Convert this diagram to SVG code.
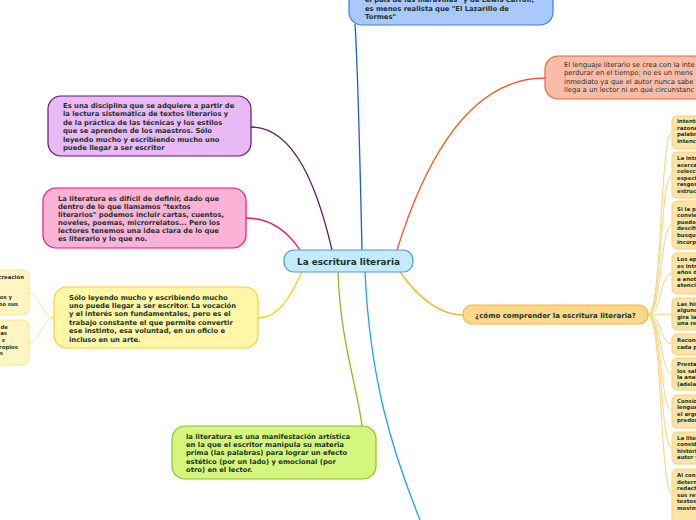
<svg xmlns="http://www.w3.org/2000/svg" width="696" height="520" viewBox="0 0 696 520">
<style>
.t{font-family:"DejaVu Sans","Liberation Sans",sans-serif;font-weight:bold;font-size:6.8px;fill:#1a3528}
.r{font-family:"DejaVu Sans","Liberation Sans",sans-serif;font-size:6.8px;fill:#1a3528}
.s{font-family:"DejaVu Sans","Liberation Sans",sans-serif;font-weight:bold;font-size:5.4px;fill:#1a3528}
.c{fill:none;stroke-width:1.3}
.sm{fill:#fee3a6;stroke:#fbcf72;stroke-width:1}
.sy{fill:#fff5c2;stroke:#f8e68c;stroke-width:1}
</style>
<rect width="696" height="520" fill="#ffffff"/>
<g id="connectors">
<path class="c" stroke="#1f5ec6" d="M362,250 C360,160 358,70 355,24"/>
<path class="c" stroke="#f05a28" d="M397,250 C425,160 470,78 545,78"/>
<path class="c" stroke="#5a1a6a" d="M251,127 C295,127 318,190 332,250"/>
<path class="c" stroke="#e8196f" d="M246,218 C272,218 288,232 300,250"/>
<path class="c" stroke="#f2d21c" d="M258,318 C282,318 294,288 302,272"/>
<path class="c" stroke="#8bbd1a" d="M338,272 C340,340 358,390 362,426"/>
<path class="c" stroke="#1aa6ea" d="M365,272 C370,380 392,450 420,520"/>
<path class="c" stroke="#f6b21b" d="M400,272 C420,300 440,315 463,315"/>
<g stroke="#f8e68c" fill="none" stroke-width="1">
<path d="M54,318 C42,318 40,293 29,293"/>
<path d="M54,318 C42,318 40,343 29,343"/>
</g>
<g stroke="#fbd27a" fill="none" stroke-width="1">
<path d="M648,315 C662,315 660,132 672,132"/>
<path d="M648,315 C662,315 660,175 672,175"/>
<path d="M648,315 C662,315 660,225 672,225"/>
<path d="M648,315 C662,315 660,273 672,273"/>
<path d="M648,315 C662,315 660,314 672,314"/>
<path d="M648,315 C662,315 660,344 672,344"/>
<path d="M648,315 C662,315 660,374 672,374"/>
<path d="M648,315 C662,315 660,411 672,411"/>
<path d="M648,315 C662,315 660,448 672,448"/>
<path d="M648,315 C662,315 660,494 672,494"/>
</g>
</g>
<g id="center">
<rect x="284" y="250" width="129" height="22" rx="10" fill="#c6e9fb" stroke="#4a9bd8" stroke-width="1.2"/>
<text x="348.5" y="264.8" text-anchor="middle" style="font-family:'DejaVu Sans','Liberation Sans',sans-serif;font-weight:bold;font-size:8.9px;fill:#1a3528">La escritura literaria</text>
</g>
<g id="n-top">
<rect x="349" y="-14" width="204" height="39" rx="13" fill="#a9c8fb" stroke="#3f7fe0" stroke-width="1.2"/>
<text class="t" x="365" y="2">el país de las maravillas" y de Lewis Carroll,</text>
<text class="t" x="365" y="10.5">es menos realista que "El Lazarillo de</text>
<text class="t" x="365" y="19">Tormes"</text>
</g>
<g id="n-salmon">
<rect x="545" y="56" width="170" height="43" rx="13" fill="#f9bca8" stroke="#f06530" stroke-width="1.2"/>
<text class="r" x="564" y="67">El lenguaje literario se crea con la inte</text>
<text class="r" x="564" y="75.3">perdurar en el tiempo; no es un mens</text>
<text class="r" x="564" y="83.6">inmediato ya que el autor nunca sabe</text>
<text class="r" x="564" y="91.9">llega a un lector ni en qué circunstanc</text>
</g>
<g id="n-purple">
<rect x="48" y="96" width="203" height="60" rx="13" fill="#e9b9f6" stroke="#5f1a6e" stroke-width="1.2"/>
<text class="t" x="63" y="107.5">Es una disciplina que se adquiere a partir de</text>
<text class="t" x="63" y="116">la lectura sistemática de textos literarios y</text>
<text class="t" x="63" y="124.5">de la práctica de las técnicas y los estilos</text>
<text class="t" x="63" y="133">que se aprenden de los maestros. Sólo</text>
<text class="t" x="63" y="141.5">leyendo mucho y escribiendo mucho uno</text>
<text class="t" x="63" y="150">puede llegar a ser escritor</text>
</g>
<g id="n-pink">
<rect x="43" y="188" width="203" height="60" rx="13" fill="#fab3d6" stroke="#e8196f" stroke-width="1.2"/>
<text class="t" x="58" y="200.5">La literatura es difícil de definir, dado que</text>
<text class="t" x="58" y="208.6">dentro de lo que llamamos "textos</text>
<text class="t" x="58" y="216.7">literarios" podemos incluir cartas, cuentos,</text>
<text class="t" x="58" y="224.8">noveles, poemas, microrrelatos... Pero los</text>
<text class="t" x="58" y="232.9">lectores tenemos una idea clara de lo que</text>
<text class="t" x="58" y="241">es literario y lo que no.</text>
</g>
<g id="n-yellow">
<rect x="54" y="287" width="204" height="61" rx="13" fill="#fff6a8" stroke="#f3d22b" stroke-width="1.2"/>
<text class="t" x="69" y="299.5">Sólo leyendo mucho y escribiendo mucho</text>
<text class="t" x="69" y="307.9">uno puede llegar a ser escritor. La vocación</text>
<text class="t" x="69" y="316.3">y el interés son fundamentales, pero es el</text>
<text class="t" x="69" y="324.7">trabajo constante el que permite convertir</text>
<text class="t" x="69" y="333.1">ese instinto, esa voluntad, en un oficio e</text>
<text class="t" x="69" y="341.5">incluso en un arte.</text>
</g>
<g id="n-left1">
<rect class="sy" x="-20" y="270" width="49" height="45" rx="6"/>
<text class="s" x="24" y="279" text-anchor="end">creación</text>
<text class="s" x="12" y="299" text-anchor="end">ros y</text>
<text class="s" x="18" y="305.5" text-anchor="end">bo sus</text>
</g>
<g id="n-left2">
<rect class="sy" x="-20" y="320" width="49" height="45" rx="6"/>
<text class="s" x="8" y="328.7" text-anchor="end">de</text>
<text class="s" x="7" y="335.3" text-anchor="end">as</text>
<text class="s" x="5" y="342" text-anchor="end">s</text>
<text class="s" x="18" y="348.5" text-anchor="end">ropios</text>
<text class="s" x="3" y="355" text-anchor="end">s</text>
</g>
<g id="n-green">
<rect x="172" y="426" width="204" height="53" rx="13" fill="#d5f67d" stroke="#8ac220" stroke-width="1.2"/>
<text class="t" x="186" y="438.5">la literatura es una manifestación artística</text>
<text class="t" x="186" y="446.9">en la que el escritor manipula su materia</text>
<text class="t" x="186" y="455.3">prima (las palabras) para lograr un efecto</text>
<text class="t" x="186" y="463.7">estético (por un lado) y emocional (por</text>
<text class="t" x="186" y="472.1">otro) en el lector.</text>
</g>
<g id="n-question">
<rect x="463" y="305" width="185" height="19" rx="9" fill="#fdd88a" stroke="#f7b733" stroke-width="1.2"/>
<text x="555.5" y="317.5" text-anchor="middle" style="font-family:'DejaVu Sans','Liberation Sans',sans-serif;font-weight:bold;font-size:7px;fill:#1a3528">¿cómo comprender la escritura literaria?</text>
</g>
<g id="n-r1"><rect class="sm" x="672" y="116" width="40" height="33" rx="5"/>
<text class="s" x="677" y="123">intenta</text><text class="s" x="677" y="129.6">razona</text><text class="s" x="677" y="136.2">palabra</text><text class="s" x="677" y="142.8">intencio</text></g>
<g id="n-r2"><rect class="sm" x="672" y="152" width="40" height="46" rx="5"/>
<text class="s" x="677" y="160">La intr</text><text class="s" x="677" y="166.6">acercar</text><text class="s" x="677" y="173.2">coleccio</text><text class="s" x="677" y="179.8">especia</text><text class="s" x="677" y="186.4">rasgos</text><text class="s" x="677" y="193">estruct</text></g>
<g id="n-r3"><rect class="sm" x="672" y="201" width="40" height="48" rx="5"/>
<text class="s" x="677" y="210.5">Si la p</text><text class="s" x="677" y="217.1">convier</text><text class="s" x="677" y="223.7">pueden</text><text class="s" x="677" y="230.3">descifr</text><text class="s" x="677" y="236.9">busque</text><text class="s" x="677" y="243.5">incorpo</text></g>
<g id="n-r4"><rect class="sm" x="672" y="253" width="40" height="41" rx="5"/>
<text class="s" x="677" y="261">Los ap</text><text class="s" x="677" y="267.6">es intri</text><text class="s" x="677" y="274.2">años d</text><text class="s" x="677" y="280.8">a anota</text><text class="s" x="677" y="287.4">atenció</text></g>
<g id="n-r5"><rect class="sm" x="672" y="298" width="40" height="32" rx="5"/>
<text class="s" x="677" y="305.5">Las his</text><text class="s" x="677" y="312.1">alguno</text><text class="s" x="677" y="318.7">gira la</text><text class="s" x="677" y="325.3">una re</text></g>
<g id="n-r6"><rect class="sm" x="672" y="334" width="40" height="21" rx="5"/>
<text class="s" x="677" y="342">Recono</text><text class="s" x="677" y="348.6">cada p</text></g>
<g id="n-r7"><rect class="sm" x="672" y="358" width="40" height="32" rx="5"/>
<text class="s" x="677" y="366">Presta</text><text class="s" x="677" y="372.6">los sal</text><text class="s" x="677" y="379.2">la anal</text><text class="s" x="677" y="385.8">(adelan</text></g>
<g id="n-r8"><rect class="sm" x="672" y="395" width="40" height="33" rx="5"/>
<text class="s" x="677" y="402.5">Conside</text><text class="s" x="677" y="409.1">lenguaj</text><text class="s" x="677" y="415.7">el argu</text><text class="s" x="677" y="422.3">predom</text></g>
<g id="n-r9"><rect class="sm" x="672" y="432" width="40" height="32" rx="5"/>
<text class="s" x="677" y="439.5">La liter</text><text class="s" x="677" y="446.1">conside</text><text class="s" x="677" y="452.7">históric</text><text class="s" x="677" y="459.3">autor y</text></g>
<g id="n-r10"><rect class="sm" x="672" y="469" width="40" height="56" rx="5"/>
<text class="s" x="677" y="477">Al cons</text><text class="s" x="677" y="483.6">determ</text><text class="s" x="677" y="490.2">redacta</text><text class="s" x="677" y="496.8">sus ref</text><text class="s" x="677" y="503.4">textos</text><text class="s" x="677" y="510">movim</text></g>
</svg>
